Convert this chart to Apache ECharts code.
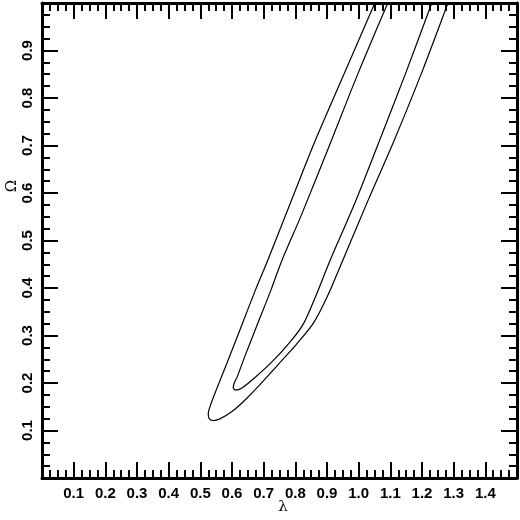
<!DOCTYPE html>
<html><head><meta charset="utf-8">
<script src="https://cdn.jsdelivr.net/npm/echarts@6/dist/echarts.min.js"></script>
<style>html,body{margin:0;padding:0;background:#fff}#c{width:520px;height:520px}</style>
</head><body><div id="c"></div>
<script>
// Outer contour (lambda, Omega), traced from upper-left exit, around the tip, to upper-right exit
const outerLambda = [1.051, 0.96, 0.862, 0.785, 0.712, 0.673, 0.628, 0.583, 0.550, 0.533, 0.525, 0.528, 0.540, 0.560, 0.600, 0.647, 0.700, 0.757, 0.804, 0.857, 0.901, 0.949, 1.03, 1.111, 1.20, 1.282];
const outerOmega  = [1.000, 0.86, 0.709, 0.580, 0.457, 0.394, 0.317, 0.240, 0.185, 0.155, 0.135, 0.125, 0.121, 0.124, 0.140, 0.168, 0.205, 0.247, 0.282, 0.326, 0.382, 0.457, 0.585, 0.709, 0.855, 1.000];
// Inner contour
const innerLambda = [1.092, 1.00, 0.913, 0.82, 0.757, 0.722, 0.678, 0.640, 0.617, 0.606, 0.604, 0.612, 0.630, 0.670, 0.730, 0.783, 0.825, 0.867, 0.909, 0.99, 1.065, 1.15, 1.231];
const innerOmega  = [1.000, 0.855, 0.709, 0.555, 0.457, 0.394, 0.320, 0.255, 0.214, 0.198, 0.190, 0.185, 0.189, 0.210, 0.247, 0.286, 0.324, 0.387, 0.457, 0.582, 0.709, 0.855, 1.000];
const xTicks = [0.1,0.2,0.3,0.4,0.5,0.6,0.7,0.8,0.9,1.0,1.1,1.2,1.3,1.4];
const yTicks = [0.1,0.2,0.3,0.4,0.5,0.6,0.7,0.8,0.9];
const xName = 'λ', yName = 'Ω';

const pair = (a, b) => a.map((v, i) => [v, b[i]]);
const chart = echarts.init(document.getElementById('c'));
const axisCommon = {
  axisLine: { show: true, onZero: false, lineStyle: { color: '#000', width: 3 } },
  axisTick: { show: true, inside: true, length: 16, lineStyle: { color: '#000', width: 2 } },
  minorTick: { show: true, splitNumber: 4, length: 8, lineStyle: { color: '#000', width: 2 } },
  splitLine: { show: false }, minorSplitLine: { show: false }
};
const font = { fontFamily: 'Liberation Sans', fontWeight: 'bold', fontSize: 15, color: '#000' };
chart.setOption({
  animation: false,
  grid: { left: 42, right: 3, top: 2, bottom: 42, containLabel: false },
  xAxis: [
    Object.assign({ type: 'value', min: 0, max: 1.5, interval: 0.1, position: 'bottom',
      axisLabel: Object.assign({ margin: 8, formatter: v => xTicks.some(t => Math.abs(t - v) < 1e-6) ? v.toFixed(1) : '' }, font) }, axisCommon),
    Object.assign({ type: 'value', min: 0, max: 1.5, interval: 0.1, position: 'top', axisLabel: { show: false } }, axisCommon)
  ],
  yAxis: [
    Object.assign({ type: 'value', min: 0, max: 1, interval: 0.1, position: 'left',
      axisLabel: Object.assign({ margin: 7, rotate: 90, formatter: v => yTicks.some(t => Math.abs(t - v) < 1e-6) ? v.toFixed(1) : '' }, font) }, axisCommon),
    Object.assign({ type: 'value', min: 0, max: 1, interval: 0.1, position: 'right', axisLabel: { show: false } }, axisCommon)
  ],
  graphic: [
    { type: 'text', x: 283, y: 507, style: { text: xName, font: '15px "DejaVu Serif"', fill: '#000', align: 'center', verticalAlign: 'middle' } },
    { type: 'text', x: 12, y: 186, rotation: Math.PI / 2, style: { text: yName, font: '15px "DejaVu Serif"', fill: '#000', align: 'center', verticalAlign: 'middle' } }
  ],
  series: [
    { type: 'line', data: pair(outerLambda, outerOmega), smooth: 0.3, showSymbol: false, lineStyle: { color: '#000', width: 1.2 } },
    { type: 'line', data: pair(innerLambda, innerOmega), smooth: 0.3, showSymbol: false, lineStyle: { color: '#000', width: 1.2 } }
  ]
});
</script></body></html>
